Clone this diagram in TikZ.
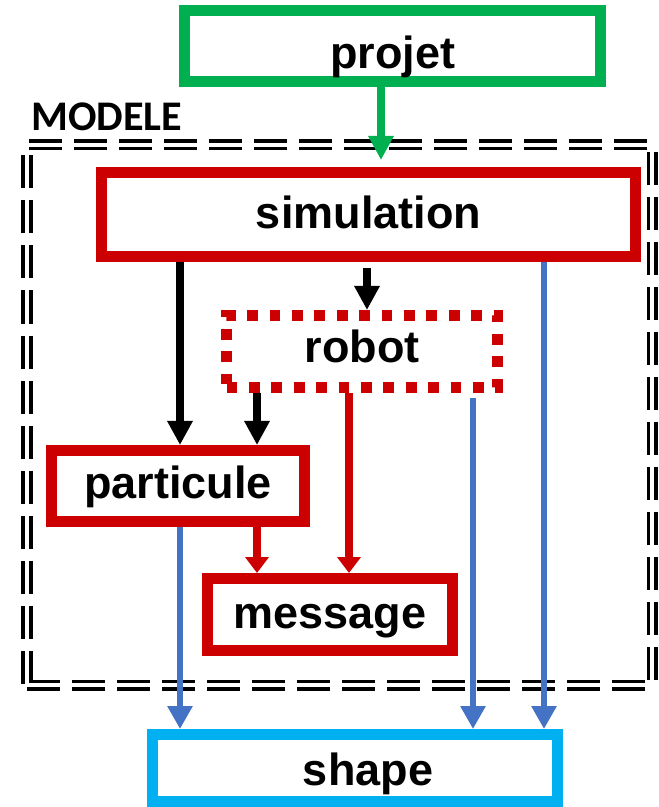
\documentclass[tikz,border=0pt]{standalone}
\usepackage{fontspec}
\setmainfont{Liberation Sans}
\newfontfamily\labelfont{Carlito}
\usetikzlibrary{positioning, fit, arrows.meta}

\definecolor{boxred}{RGB}{204,0,0}
\definecolor{boxgreen}{RGB}{0,176,80}
\definecolor{boxcyan}{RGB}{0,176,240}
\definecolor{linkblue}{RGB}{68,114,196}

\begin{document}
\begin{tikzpicture}[
    x=0.025cm, y=-0.025cm,
    class/.style={draw=boxred, line width=0.275cm, inner sep=0pt, align=center, text depth=0cm,
        font=\bfseries\fontsize{32}{38}\selectfont},
    link/.style={line width=0.185cm, -{Triangle[width=0.6cm, length=0.6cm]}}
]

\useasboundingbox (0,0) rectangle (658,807);

% classes
\node[class, draw=boxgreen, text height=1.1cm, minimum width=416*0.025cm, minimum height=71*0.025cm] (Projet) at (392.5,46) {projet};
\node[class, text height=0.675cm, minimum width=534*0.025cm, minimum height=84*0.025cm] (Sim) at (368.5,214.5) {simulation};
\node[class, text height=0.525cm, dash pattern=on 0.27cm off 0.29cm, minimum width=271*0.025cm, minimum height=72*0.025cm] (Robot) at (362,351.5) {robot};
\node[class, text height=0.6cm, minimum width=253*0.025cm, minimum height=71*0.025cm] (Part) at (178,486) {particule};
\node[class, text height=0.675cm, minimum width=245*0.025cm, minimum height=72*0.025cm] (Msg) at (330,614.5) {message};
\node[class, draw=boxcyan, text height=0.85cm, minimum width=405*0.025cm, minimum height=67*0.025cm] (Shape) at (355,768) {\hspace*{0.65cm}shape};

% package frame
\node[draw, double, line width=0.0875cm, double distance=0.1cm, dash pattern=on 0.825cm off 0.3cm,
    inner sep=0pt, minimum width=625*0.025cm, minimum height=540*0.025cm] (Modele) at (339.5,415) {};
\node[anchor=base west, inner sep=0pt, font=\labelfont\bfseries\fontsize{30}{36}\selectfont] (ModeleLabel) at (31,131) {MODELE};

% dependencies
\draw[link, boxgreen, shorten >=0.175cm] (Projet.south -| 381,0) -- (Sim.north -| 381,0);

\draw[link] (Sim.south -| 180,0) -- (Part.north -| 180,0);
\draw[link, shorten <=0.15cm] (Sim.south -| 367,0) -- (Robot.north -| 367,0);
\draw[link] (Robot.south -| 257,0) -- (Part.north -| 257,0);

\draw[link, boxred, -{Triangle[width=0.575cm, length=0.4cm]}] (Part.south -| 257,0) -- (Msg.north -| 257,0);
\draw[link, boxred, -{Triangle[width=0.575cm, length=0.4cm]}] (Robot.south -| 349,0) -- (Msg.north -| 349,0);

\draw[link, linkblue, line width=0.16cm, -{Triangle[width=0.6cm, length=0.575cm]}] (Part.south -| 180,0) -- (Shape.north -| 180,0);
\draw[link, linkblue, line width=0.16cm, shorten <=0.125cm, -{Triangle[width=0.6cm, length=0.575cm]}] (Robot.south -| 473,0) -- (Shape.north -| 473,0);
\draw[link, linkblue, line width=0.16cm, -{Triangle[width=0.6cm, length=0.575cm]}] (Sim.south -| 544,0) -- (Shape.north -| 544,0);

\end{tikzpicture}
\end{document}
